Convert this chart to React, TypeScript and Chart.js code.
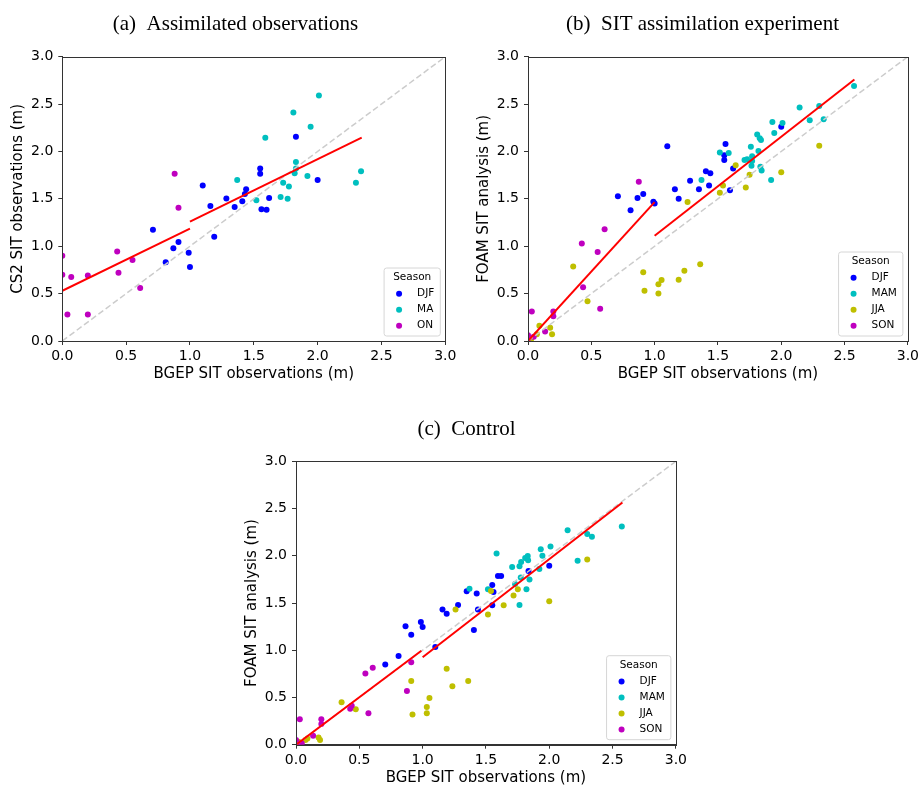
import React, { useEffect, useRef } from 'react';
import { Chart, registerables } from 'chart.js';

Chart.register(...registerables);

// ---------- data ----------
const TICK_VALUES = [0, 0.5, 1.0, 1.5, 2.0, 2.5, 3.0];
const DIAGONAL = [[0, 0], [3, 3]];

// (a) Assimilated observations
const A_DJF = [[0.71,1.175],[0.81,0.83],[0.87,0.98],[0.91,1.045],[0.99,0.93],[1.0,0.78],[1.10,1.64],[1.16,1.425],[1.19,1.10],[1.285,1.505],[1.35,1.415],[1.41,1.475],[1.43,1.55],[1.44,1.60],[1.55,1.82],[1.55,1.765],[1.56,1.39],[1.60,1.385],[1.62,1.51],[1.83,2.155],[2.0,1.70]];
const A_MA = [[1.37,1.70],[1.52,1.485],[1.59,2.145],[1.71,1.52],[1.73,1.67],[1.765,1.50],[1.775,1.63],[1.81,2.41],[1.82,1.77],[1.83,1.89],[1.83,1.82],[1.92,1.74],[1.945,2.26],[2.01,2.59],[2.30,1.67],[2.34,1.79]];
const A_ON = [[0.0,0.90],[0.0,0.70],[0.04,0.28],[0.07,0.675],[0.20,0.69],[0.20,0.28],[0.43,0.945],[0.44,0.72],[0.55,0.855],[0.61,0.56],[0.88,1.765],[0.91,1.405]];
const A_FIT_LOW = [[0, 0.53], [1.0, 1.185]];
const A_FIT_HIGH = [[1.0, 1.26], [2.345, 2.145]];

// (b) SIT assimilation experiment
const B_DJF = [[0.71,1.527],[0.81,1.38],[0.865,1.51],[0.91,1.55],[0.99,1.47],[1.0,1.45],[1.10,2.055],[1.16,1.60],[1.19,1.50],[1.28,1.69],[1.35,1.60],[1.405,1.79],[1.43,1.64],[1.44,1.77],[1.55,1.96],[1.55,1.91],[1.56,2.08],[1.595,1.59],[1.62,1.82],[2.0,2.26]];
const B_MAM = [[1.37,1.70],[1.515,1.99],[1.585,1.985],[1.71,1.91],[1.73,1.917],[1.76,2.05],[1.765,1.85],[1.77,1.95],[1.77,1.90],[1.81,2.18],[1.82,2.005],[1.83,2.14],[1.835,1.84],[1.84,2.12],[1.845,1.80],[1.92,1.70],[1.93,2.31],[1.945,2.195],[2.01,2.30],[2.145,2.465],[2.225,2.33],[2.30,2.48],[2.335,2.34],[2.575,2.69]];
const B_JJA = [[0.01,0.01],[0.025,0.02],[0.07,0.07],[0.09,0.16],[0.175,0.14],[0.19,0.07],[0.357,0.785],[0.47,0.42],[0.91,0.725],[0.92,0.53],[1.03,0.60],[1.03,0.50],[1.055,0.645],[1.19,0.647],[1.235,0.742],[1.26,1.467],[1.36,0.81],[1.515,1.565],[1.54,1.64],[1.64,1.855],[1.72,1.62],[1.75,1.755],[2.0,1.78],[2.30,2.06]];
const B_SON = [[0.0,0.06],[0.005,0.03],[0.03,0.31],[0.045,0.045],[0.135,0.10],[0.20,0.31],[0.20,0.26],[0.425,1.03],[0.435,0.566],[0.55,0.94],[0.57,0.34],[0.605,1.18],[0.875,1.68]];
const B_FIT_LOW = [[0, 0], [1.0, 1.465]];
const B_FIT_HIGH = [[1.0, 1.11], [2.578, 2.76]];

// (c) Control
const C_DJF = [[0.705,0.85],[0.81,0.94],[0.865,1.253],[0.91,1.165],[0.986,1.30],[1.0,1.246],[1.10,1.034],[1.157,1.43],[1.19,1.387],[1.28,1.479],[1.348,1.624],[1.405,1.214],[1.427,1.60],[1.437,1.43],[1.55,1.69],[1.56,1.617],[1.55,1.475],[1.595,1.786],[1.62,1.786],[1.836,1.84],[2.0,1.895]];
const C_MAM = [[1.37,1.652],[1.516,1.645],[1.584,2.023],[1.707,1.88],[1.73,1.70],[1.765,1.89],[1.775,1.77],[1.778,1.934],[1.765,1.479],[1.81,1.977],[1.82,1.645],[1.83,1.998],[1.833,1.952],[1.844,1.75],[1.922,1.86],[1.933,2.07],[1.946,2.0],[2.01,2.097],[2.145,2.27],[2.224,1.948],[2.30,2.23],[2.337,2.2],[2.573,2.31]];
const C_JJA = [[0.02,0.03],[0.075,0.05],[0.09,0.065],[0.178,0.075],[0.19,0.05],[0.36,0.45],[0.472,0.374],[0.91,0.674],[0.92,0.32],[1.033,0.40],[1.033,0.332],[1.054,0.494],[1.19,0.805],[1.235,0.62],[1.26,1.43],[1.36,0.674],[1.516,1.377],[1.54,1.627],[1.64,1.475],[1.718,1.58],[1.752,1.645],[2.0,1.518],[2.30,1.96]];
const C_SON = [[0,0.05],[0.01,0.02],[0.03,0.27],[0.045,0.015],[0.135,0.095],[0.20,0.27],[0.20,0.22],[0.428,0.38],[0.44,0.413],[0.548,0.755],[0.572,0.332],[0.606,0.815],[0.876,0.568],[0.91,0.872]];
const C_FIT_LOW = [[0, 0], [0.99, 0.995]];
const C_FIT_HIGH = [[1.0, 0.925], [2.578, 2.563]];

const COLORS: Record<string, string> = {
  DJF: '#0000ff', MAM: '#00bfbf', MA: '#00bfbf', JJA: '#bfbf00', SON: '#bf00bf', ON: '#bf00bf',
};

const X_LABEL = 'BGEP SIT observations (m)';

type Series = { label: string; data: number[][] };
type PanelSpec = {
  left: number; top: number; width: number; height: number;
  padding: { top: number; left: number; right: number; bottom: number };
  title: string; titleX: number; titleY: number;
  yLabel: string;
  series: Series[];
  fits: number[][][];
};

const PANELS: PanelSpec[] = [
  {
    left: 0, top: 0, width: 461, height: 392,
    padding: { top: 56.7, left: 0, right: 15.7, bottom: 7 },
    title: '(a)  Assimilated observations', titleX: 235.5, titleY: 30,
    yLabel: 'CS2 SIT observations (m)',
    series: [{ label: 'DJF', data: A_DJF }, { label: 'MA', data: A_MA }, { label: 'ON', data: A_ON }],
    fits: [A_FIT_LOW, A_FIT_HIGH],
  },
  {
    left: 461, top: 0, width: 461, height: 392,
    padding: { top: 56.7, left: 4.7, right: 12.7, bottom: 7 },
    title: '(b)  SIT assimilation experiment', titleX: 241.5, titleY: 30,
    yLabel: 'FOAM SIT analysis (m)',
    series: [{ label: 'DJF', data: B_DJF }, { label: 'MAM', data: B_MAM }, { label: 'JJA', data: B_JJA }, { label: 'SON', data: B_SON }],
    fits: [B_FIT_LOW, B_FIT_HIGH],
  },
  {
    left: 230, top: 392, width: 460, height: 397,
    padding: { top: 69.3, left: 3.7, right: 12.7, bottom: 0.3 },
    title: '(c)  Control', titleX: 236.5, titleY: 43,
    yLabel: 'FOAM SIT analysis (m)',
    series: [{ label: 'DJF', data: C_DJF }, { label: 'MAM', data: C_MAM }, { label: 'JJA', data: C_JJA }, { label: 'SON', data: C_SON }],
    fits: [C_FIT_LOW, C_FIT_HIGH],
  },
];

const SANS = '"DejaVu Sans", sans-serif';
const SERIF = '"Liberation Serif", "Times New Roman", serif';

function Panel({ spec }: { spec: PanelSpec }) {
  const ref = useRef<HTMLCanvasElement | null>(null);

  useEffect(() => {
    if (!ref.current) return;
    const toPts = (d: number[][]) => d.map(([x, y]) => ({ x, y }));
    const n = spec.series.length;

    const scatterSets = spec.series.map((s, i) => ({
      type: 'scatter' as const,
      label: s.label,
      data: toPts(s.data),
      backgroundColor: COLORS[s.label],
      borderColor: COLORS[s.label],
      pointRadius: 3,
      pointBorderWidth: 0,
      pointHoverRadius: 3,
      clip: 0,
      order: 10 + (n - i),
    }));
    const fitSets = spec.fits.map((f, i) => ({
      type: 'line' as const,
      label: 'fit' + i,
      data: toPts(f),
      borderColor: '#ff0000',
      backgroundColor: '#ff0000',
      borderWidth: 2,
      pointRadius: 0,
      showLine: true,
      fill: false,
      tension: 0,
      order: 0,
    }));
    const diag = {
      type: 'line' as const,
      label: 'diag',
      data: toPts(DIAGONAL),
      borderColor: '#cccccc',
      borderWidth: 1.5,
      borderDash: [6, 3],
      pointRadius: 0,
      showLine: true,
      fill: false,
      tension: 0,
      order: 1,
    };

    const overlay = {
      id: 'overlay',
      afterDraw(chart: any) {
        const ctx = chart.ctx as CanvasRenderingContext2D;
        const ca = chart.chartArea;
        ctx.save();
        // frame
        ctx.strokeStyle = '#333';
        ctx.lineWidth = 1;
        ctx.strokeRect(Math.round(ca.left) + 0.5, Math.round(ca.top) + 0.5,
          Math.round(ca.right) - Math.round(ca.left), Math.round(ca.bottom) - Math.round(ca.top));
        // legend
        const LF = 10.5;
        ctx.font = `${LF}px ${SANS}`;
        const titleW = ctx.measureText('Season').width;
        let labelW = 0;
        spec.series.forEach((s) => { labelW = Math.max(labelW, ctx.measureText(s.label).width); });
        const w = Math.max(titleW + 18, 33 + labelW + 6);
        const h = 20 + 16 * n;
        const x0 = ca.right - 5 - w;
        const y0 = ca.bottom - 5 - h;
        ctx.beginPath();
        const r = 2.5;
        ctx.moveTo(x0 + r, y0);
        ctx.lineTo(x0 + w - r, y0);
        ctx.quadraticCurveTo(x0 + w, y0, x0 + w, y0 + r);
        ctx.lineTo(x0 + w, y0 + h - r);
        ctx.quadraticCurveTo(x0 + w, y0 + h, x0 + w - r, y0 + h);
        ctx.lineTo(x0 + r, y0 + h);
        ctx.quadraticCurveTo(x0, y0 + h, x0, y0 + h - r);
        ctx.lineTo(x0, y0 + r);
        ctx.quadraticCurveTo(x0, y0, x0 + r, y0);
        ctx.closePath();
        ctx.fillStyle = 'rgba(255,255,255,0.8)';
        ctx.fill();
        ctx.strokeStyle = '#d6d6d6';
        ctx.lineWidth = 1;
        ctx.stroke();
        ctx.fillStyle = '#000';
        ctx.textBaseline = 'middle';
        ctx.textAlign = 'center';
        ctx.fillText('Season', x0 + w / 2, y0 + 9.5);
        ctx.textAlign = 'left';
        spec.series.forEach((s, i) => {
          const cy = y0 + 25.7 + 16 * i;
          ctx.beginPath();
          ctx.arc(x0 + 15, cy, 3, 0, Math.PI * 2);
          ctx.fillStyle = COLORS[s.label];
          ctx.fill();
          ctx.fillStyle = '#000';
          ctx.fillText(s.label, x0 + 33, cy);
        });
        // panel title
        ctx.font = `21px ${SERIF}`;
        ctx.textAlign = 'center';
        ctx.textBaseline = 'alphabetic';
        ctx.fillStyle = '#000';
        ctx.fillText(spec.title, spec.titleX, spec.titleY);
        ctx.restore();
      },
    };

    const tickFont = { family: SANS, size: 14 };
    const titleFont = { family: SANS, size: 15 };
    const setTicks = (s: any) => { s.ticks = TICK_VALUES.map((v) => ({ value: v })); };
    const fmt = (v: any) => Number(v).toFixed(1);

    const chart = new Chart(ref.current, {
      type: 'scatter',
      data: { datasets: [...fitSets, diag, ...scatterSets] as any },
      options: {
        responsive: false,
        maintainAspectRatio: false,
        animation: false,
        events: [],
        layout: { padding: spec.padding },
        plugins: { legend: { display: false }, tooltip: { enabled: false }, title: { display: false } },
        scales: {
          x: {
            type: 'linear', min: 0, max: 3,
            afterBuildTicks: setTicks,
            afterFit: (s: any) => { s.height = 44; },
            ticks: { callback: fmt, font: tickFont, color: '#000', padding: 3, maxRotation: 0, autoSkip: false },
            grid: { display: true, drawOnChartArea: false, drawTicks: true, tickLength: 4, color: '#333', lineWidth: 1 },
            border: { display: true, color: '#333', width: 1 },
            title: { display: true, text: X_LABEL, font: titleFont, color: '#000', padding: { top: 0, bottom: 2 } },
          },
          y: {
            type: 'linear', min: 0, max: 3,
            afterBuildTicks: setTicks,
            afterFit: (s: any) => { s.width = 62.3; },
            ticks: { callback: fmt, font: tickFont, color: '#000', padding: 5, autoSkip: false },
            grid: { display: true, drawOnChartArea: false, drawTicks: true, tickLength: 4, color: '#333', lineWidth: 1 },
            border: { display: true, color: '#333', width: 1 },
            title: { display: true, text: spec.yLabel, font: titleFont, color: '#000', padding: { top: 9, bottom: 0 } },
          },
        },
      } as any,
      plugins: [overlay],
    });
    return () => chart.destroy();
  }, [spec]);

  return (
    <canvas
      ref={ref}
      width={spec.width}
      height={spec.height}
      style={{ position: 'absolute', left: spec.left, top: spec.top, width: spec.width, height: spec.height }}
    />
  );
}

export default function App() {
  return (
    <div style={{ position: 'absolute', left: 0, top: 0, width: 922, height: 785, overflow: 'hidden', background: '#fff' }}>
      {PANELS.map((p, i) => <Panel key={i} spec={p} />)}
    </div>
  );
}
